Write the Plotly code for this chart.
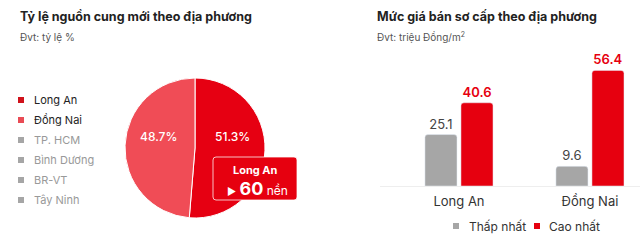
import plotly.graph_objects as go

# ---- data ----
regions = ["Long An", "Đồng Nai", "TP. HCM", "Bình Dương", "BR-VT", "Tây Ninh"]
supply_share = [51.3, 48.7, 0, 0, 0, 0]  # % of new supply
region_colors = ["#E60012", "#F04C56", "#A6A6A6", "#A6A6A6", "#A6A6A6", "#A6A6A6"]
legend_marker_colors = ["#D0121B", "#E94B55", "#A6A6A6", "#A6A6A6", "#A6A6A6", "#A6A6A6"]

callout_region = "Long An"
callout_units = 60  # nền

price_regions = ["Long An", "Đồng Nai"]
price_low = [25.1, 9.6]    # Thấp nhất
price_high = [40.6, 56.4]  # Cao nhất

W, H = 640, 247
FONT = "Inter"


def px(x):
    return x / W


def py(y):
    return 1 - y / H


fig = go.Figure()

# ---- pie: share of new supply ----
pie_labels = [r for r, v in zip(regions, supply_share) if v > 0]
pie_values = [v for v in supply_share if v > 0]
pie_colors = [c for c, v in zip(region_colors, supply_share) if v > 0]

fig.add_trace(go.Pie(
    labels=pie_labels,
    values=pie_values,
    sort=False,
    direction="clockwise",
    rotation=0,
    marker=dict(colors=pie_colors, line=dict(color="white", width=1)),
    textinfo="none",
    domain=dict(x=[px(125), px(265)], y=[py(218), py(78)]),
    showlegend=False,
    hoverinfo="label+percent",
))

# ---- bars: primary selling price ----
fig.add_trace(go.Bar(
    name="Thấp nhất",
    x=price_regions,
    y=price_low,
    marker=dict(color="#A6A6A6"),
    text=[f"{v:.1f}" for v in price_low],
    textposition="outside",
    textfont=dict(family=FONT, size=13, color="#444444"),
    cliponaxis=False,
    xaxis="x",
    yaxis="y",
    showlegend=False,
))
fig.add_trace(go.Bar(
    name="Cao nhất",
    x=price_regions,
    y=price_high,
    marker=dict(color="#E6000F"),
    text=[f"{v:.1f}" for v in price_high],
    textposition="outside",
    textfont=dict(family=FONT, size=13, color="#E6000F", weight=600),
    cliponaxis=False,
    xaxis="x",
    yaxis="y",
    showlegend=False,
))

annotations = []
shapes = []

# titles
for x0, title, sub in [
    (18, "Tỷ lệ nguồn cung mới theo địa phương", "Đvt: tỷ lệ %"),
    (375, "Mức giá bán sơ cấp theo địa phương", "Đvt: triệu Đồng/m<sup>2</sup>"),
]:
    annotations.append(dict(
        text=title, x=px(x0), y=py(17), xref="paper", yref="paper",
        xanchor="left", yanchor="middle", showarrow=False,
        font=dict(family=FONT, size=12.5, color="#222222", weight=700),
    ))
    annotations.append(dict(
        text=sub, x=px(x0), y=py(37), xref="paper", yref="paper",
        xanchor="left", yanchor="middle", showarrow=False,
        font=dict(family=FONT, size=10, color="#555555"),
    ))

# slice percentages
for val, (lx, ly) in zip(pie_values, [(232, 136), (158, 136)]):
    annotations.append(dict(
        text=f"{val:.1f}%", x=px(lx), y=py(ly), xref="paper", yref="paper",
        xanchor="center", yanchor="middle", showarrow=False,
        font=dict(family=FONT, size=12, color="white", weight=500),
    ))

# region legend of the pie
for i, (name, val, mc) in enumerate(zip(regions, supply_share, legend_marker_colors)):
    yc = 100 + 20 * i
    shapes.append(dict(
        type="rect", xref="paper", yref="paper",
        x0=px(18), x1=px(24), y0=py(yc + 3), y1=py(yc - 3),
        fillcolor=mc, line=dict(width=0),
    ))
    annotations.append(dict(
        text=name, x=px(32), y=py(yc), xref="paper", yref="paper",
        xanchor="left", yanchor="middle", showarrow=False,
        font=dict(family=FONT, size=11, color="#222222" if val > 0 else "#999999"),
    ))

# callout box
bx0, bx1, by0, by1, r = 213, 297, 157, 200, 3
path = (
    f"M {px(bx0 + r)},{py(by0)} L {px(bx1 - r)},{py(by0)} "
    f"Q {px(bx1)},{py(by0)} {px(bx1)},{py(by0 + r)} "
    f"L {px(bx1)},{py(by1 - r)} Q {px(bx1)},{py(by1)} {px(bx1 - r)},{py(by1)} "
    f"L {px(bx0 + r)},{py(by1)} Q {px(bx0)},{py(by1)} {px(bx0)},{py(by1 - r)} "
    f"L {px(bx0)},{py(by0 + r)} Q {px(bx0)},{py(by0)} {px(bx0 + r)},{py(by0)} Z"
)
shapes.append(dict(
    type="path", xref="paper", yref="paper", path=path,
    fillcolor="#E6000F", line=dict(color="rgba(255,255,255,0.75)", width=1),
))
annotations.append(dict(
    text=callout_region, x=px(255), y=py(170), xref="paper", yref="paper",
    xanchor="center", yanchor="middle", showarrow=False,
    font=dict(family=FONT, size=11, color="white", weight=700),
))
annotations.append(dict(
    text=f"<span style='font-size:10px'>▶</span> <b><span style='font-size:18px'>{callout_units}</span></b> nền",
    x=px(257), y=py(188), xref="paper", yref="paper",
    xanchor="center", yanchor="middle", showarrow=False,
    font=dict(family=FONT, size=12, color="white"),
))

# legend of the bar chart
for name, col, mx, tx in [("Thấp nhất", "#A6A6A6", 456, 467), ("Cao nhất", "#E6000F", 537, 547)]:
    shapes.append(dict(
        type="rect", xref="paper", yref="paper",
        x0=px(mx - 3), x1=px(mx + 3), y0=py(229), y1=py(223),
        fillcolor=col, line=dict(width=0),
    ))
    annotations.append(dict(
        text=name, x=px(tx), y=py(226), xref="paper", yref="paper",
        xanchor="left", yanchor="middle", showarrow=False,
        font=dict(family=FONT, size=12, color="#333333"),
    ))

fig.update_layout(
    width=W, height=H,
    margin=dict(l=0, r=0, t=0, b=0),
    paper_bgcolor="white",
    plot_bgcolor="white",
    font=dict(family=FONT),
    barmode="group",
    bargap=0.45,
    bargroupgap=0.11,
    barcornerradius=3,
    xaxis=dict(
        domain=[px(380), 1],
        range=[-0.603, 1.382],
        showgrid=False, zeroline=False,
        showline=True, linecolor="#EEEEEE", linewidth=1,
        ticks="",
        ticklabelstandoff=3,
        tickfont=dict(family=FONT, size=13, color="#333333"),
        fixedrange=True,
    ),
    yaxis=dict(
        domain=[py(186), py(63)],
        range=[0, 60],
        visible=False,
        fixedrange=True,
    ),
    shapes=shapes,
    annotations=annotations,
)

fig.write_html("out.html")
